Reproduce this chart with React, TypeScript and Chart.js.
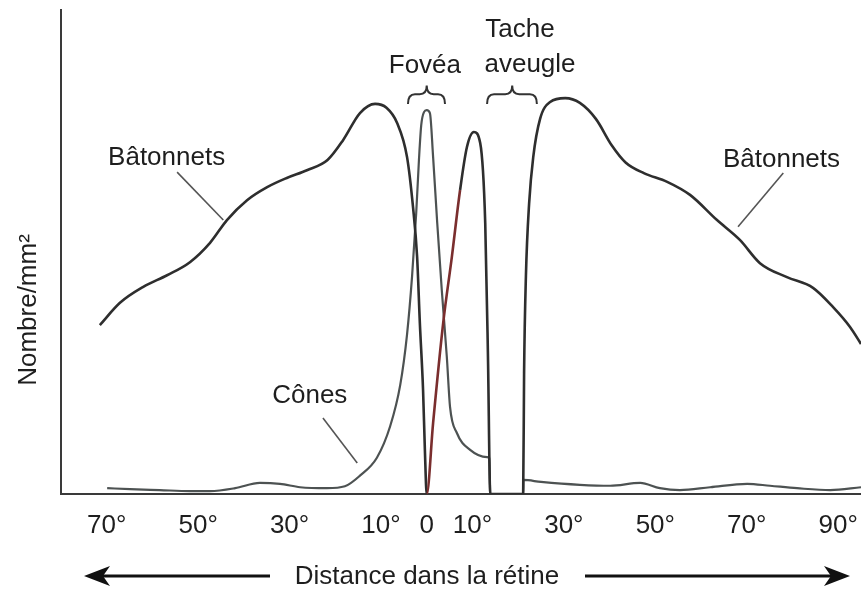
import React, { useEffect, useRef } from 'react';
import { Chart, registerables } from 'chart.js';

Chart.register(...registerables);

// Distance in the retina (degrees; negative = left side of the fovea)
const rodsX = [
  -71.5, -67.1, -62.0, -56.8, -51.8, -47.4, -43.7, -39.3, -34.9, -30.6, -26.2, -21.7, -18.3, -14.6,
  -11.3, -8.8, -6.5, -4.3, -3.0, -2.1, -1.5, -0.8, -0.4, 0,
  1.4, 3.6, 5.5, 7.3, 8.8, 10.3, 11.7, 12.8, 13.4, 13.9,
  21.1, 21.3, 21.7, 22.4, 23.3, 24.8, 27.0, 30.3, 33.5, 37.0, 40.5, 43.5, 47.5, 52.6, 57.6,
  63.5, 68.5, 72.9, 78.8, 84.5, 88.9, 92.6, 95,
];
const rodsY = [
  34.9, 39.5, 42.8, 45.2, 47.9, 51.9, 56.6, 60.7, 63.4, 65.3, 66.9, 69.0, 73.1, 78.7,
  80.6, 79.8, 76.7, 69.6, 59.3, 49.0, 35.3, 21.5, 9.1, 0,
  14.7, 35.3, 49.0, 62.8, 71.7, 74.8, 72.5, 56.0, 28.3, 0,
  0, 25, 45, 60, 69.6, 77.5, 81.0, 81.8, 80.8, 77.5, 72.0, 68.5, 66.3, 64.5, 61.8,
  56.6, 52.5, 47.7, 44.8, 42.6, 38.6, 34.5, 31.0,
];

const conesX = [
  -69.9, -64.9, -58.4, -51.8, -47.4, -41.9, -36.5, -32.1, -27.7, -21.8, -17.9, -14.6, -10.9,
  -8.0, -5.8, -4.3, -3.2, -2.3, -1.7, -1.2, -0.6, 0, 0.7, 1.4, 2.3, 3.3, 4.4, 5.1, 6.6, 9.5,
  13.2, 13.7, 13.9, 21.1, 21.15, 25.0, 33.5, 40.1, 46.7, 51.0, 55.4, 62.0, 70.1, 75.1, 81.0,
  88.3, 95,
];
const conesY = [
  1.2, 1.0, 0.8, 0.6, 0.6, 1.2, 2.3, 2.1, 1.4, 1.2, 1.6, 3.8, 7.5,
  14.0, 22.5, 33.0, 45.0, 58.0, 69.0, 76.2, 78.9, 79.3, 78.7, 69.6, 56.0, 42.1, 28.3, 18.0, 12.6, 9.1,
  7.6, 7.4, 0, 0, 2.9, 2.5, 1.9, 1.7, 2.3, 1.2, 0.8, 1.4, 2.1, 1.7, 1.2,
  0.8, 1.4,
];

const tickValues = [-70, -50, -30, -10, 0, 10, 30, 50, 70, 90];
const tickLabels = ['70°', '50°', '30°', '10°', '0', '10°', '30°', '50°', '70°', '90°'];

const yTitle = 'Nombre/mm²';
const xTitle = 'Distance dans la rétine';
const rodsLabel = 'Bâtonnets';
const conesLabel = 'Cônes';
const foveaLabel = 'Fovéa';
const blindLabel = ['Tache', 'aveugle'];

const FONT = '"Liberation Sans", Arial, Helvetica, sans-serif';
const TEXT = '#1e1e1e';

const annotPlugin = {
  id: 'annot',
  afterDraw(chart: any) {
    const ctx: CanvasRenderingContext2D = chart.ctx;
    const xs = chart.scales.x;
    const ys = chart.scales.y;
    const X = (d: number) => xs.getPixelForValue(d);
    const Y = (v: number) => ys.getPixelForValue(v);
    ctx.save();
    ctx.font = `26px ${FONT}`;
    ctx.fillStyle = TEXT;
    ctx.textBaseline = 'alphabetic';

    // labels
    ctx.textAlign = 'left';
    ctx.fillText(rodsLabel, X(-69.7), Y(68.0));
    ctx.fillText(rodsLabel, X(64.8), Y(67.6));
    ctx.fillText(conesLabel, X(-33.8), Y(18.8));
    ctx.textAlign = 'center';
    ctx.fillText(foveaLabel, X(-0.4), Y(87.0));
    ctx.fillText(blindLabel[0], X(20.4), Y(94.4));
    ctx.fillText(blindLabel[1], X(22.6), Y(87.2));

    // leader lines
    ctx.strokeStyle = '#555';
    ctx.lineWidth = 1.6;
    const leader = (a: number, b: number, c: number, d: number) => {
      ctx.beginPath();
      ctx.moveTo(X(a), Y(b));
      ctx.lineTo(X(c), Y(d));
      ctx.stroke();
    };
    leader(-54.6, 66.5, -44.5, 56.6);
    leader(78.0, 66.3, 68.1, 55.2);
    leader(-22.7, 15.7, -15.2, 6.4);

    // braces
    ctx.strokeStyle = '#333';
    ctx.lineWidth = 2;
    const brace = (d1: number, d2: number, dc: number) => {
      const x1 = X(d1), x2 = X(d2), xc = X(dc);
      const yb = Y(80.6), ym = Y(82.6), yt = Y(84.4);
      const r = 7;
      ctx.beginPath();
      ctx.moveTo(x1, yb);
      ctx.quadraticCurveTo(x1, ym, x1 + r, ym);
      ctx.lineTo(xc - r, ym);
      ctx.quadraticCurveTo(xc, ym, xc, yt);
      ctx.quadraticCurveTo(xc, ym, xc + r, ym);
      ctx.lineTo(x2 - r, ym);
      ctx.quadraticCurveTo(x2, ym, x2, yb);
      ctx.stroke();
    };
    brace(-4.1, 4.0, 0);
    brace(13.2, 24.1, 18.7);

    // x title with arrows
    const ty = 584;
    const tx = 427;
    ctx.textAlign = 'center';
    ctx.fillText(xTitle, tx, ty);
    const ay = 576;
    ctx.strokeStyle = '#111';
    ctx.fillStyle = '#111';
    ctx.lineWidth = 3;
    ctx.beginPath();
    ctx.moveTo(95, ay);
    ctx.lineTo(270, ay);
    ctx.moveTo(585, ay);
    ctx.lineTo(840, ay);
    ctx.stroke();
    const head = (tip: number, dir: number) => {
      ctx.beginPath();
      ctx.moveTo(tip, ay);
      ctx.lineTo(tip - dir * 26, ay - 10);
      ctx.lineTo(tip - dir * 19, ay);
      ctx.lineTo(tip - dir * 26, ay + 10);
      ctx.closePath();
      ctx.fill();
    };
    head(84, -1);
    head(850, 1);

    // y title
    ctx.fillStyle = TEXT;
    ctx.translate(29, 310);
    ctx.rotate(-Math.PI / 2);
    ctx.textAlign = 'center';
    ctx.textBaseline = 'middle';
    ctx.fillText(yTitle, 0, 0);
    ctx.restore();
  },
};

export default function App() {
  const ref = useRef<HTMLCanvasElement | null>(null);
  useEffect(() => {
    if (!ref.current) return;
    const chart = new Chart(ref.current, {
      type: 'line',
      data: {
        datasets: [
          {
            label: rodsLabel,
            data: rodsX.map((x, i) => ({ x, y: rodsY[i] })),
            borderColor: '#2e2e2e',
            borderWidth: 2.6,
            pointRadius: 0,
            cubicInterpolationMode: 'monotone',
            segment: {
              borderColor: (c: any) =>
                c.p0.parsed.x >= 0 && c.p1.parsed.x <= 7.4 ? '#7a2e2e' : undefined,
            },
          },
          {
            label: conesLabel,
            data: conesX.map((x, i) => ({ x, y: conesY[i] })),
            borderColor: '#4d5252',
            borderWidth: 2.2,
            pointRadius: 0,
            cubicInterpolationMode: 'monotone',
          },
        ],
      },
      options: {
        responsive: false,
        animation: false,
        devicePixelRatio: 1,
        layout: { padding: { top: 10, right: 0, left: 0, bottom: 0 } },
        plugins: { legend: { display: false }, tooltip: { enabled: false }, title: { display: false } },
        scales: {
          x: {
            type: 'linear',
            min: -80,
            max: 95,
            grid: { display: false },
            border: { display: true, color: '#3a3a3a', width: 2 },
            afterBuildTicks: (s: any) => {
              s.ticks = tickValues.map((v) => ({ value: v }));
            },
            ticks: {
              autoSkip: false,
              maxRotation: 0,
              minRotation: 0,
              padding: 8,
              color: TEXT,
              font: { family: FONT, size: 26 },
              callback: (_v: any, i: number) => tickLabels[i],
            },
            afterFit: (s: any) => {
              s.height = 97;
              s.paddingLeft = 0;
              s.paddingRight = 0;
            },
          },
          y: {
            type: 'linear',
            min: 0,
            max: 100,
            grid: { display: false },
            border: { display: true, color: '#3a3a3a', width: 2 },
            ticks: { display: false },
            afterFit: (s: any) => {
              s.width = 61;
            },
          },
        },
      },
      plugins: [annotPlugin],
    } as any);
    return () => chart.destroy();
  }, []);
  return (
    <div style={{ position: 'absolute', left: 0, top: 0, width: 861, height: 591, background: '#fff' }}>
      <canvas ref={ref} width={861} height={591} />
    </div>
  );
}
